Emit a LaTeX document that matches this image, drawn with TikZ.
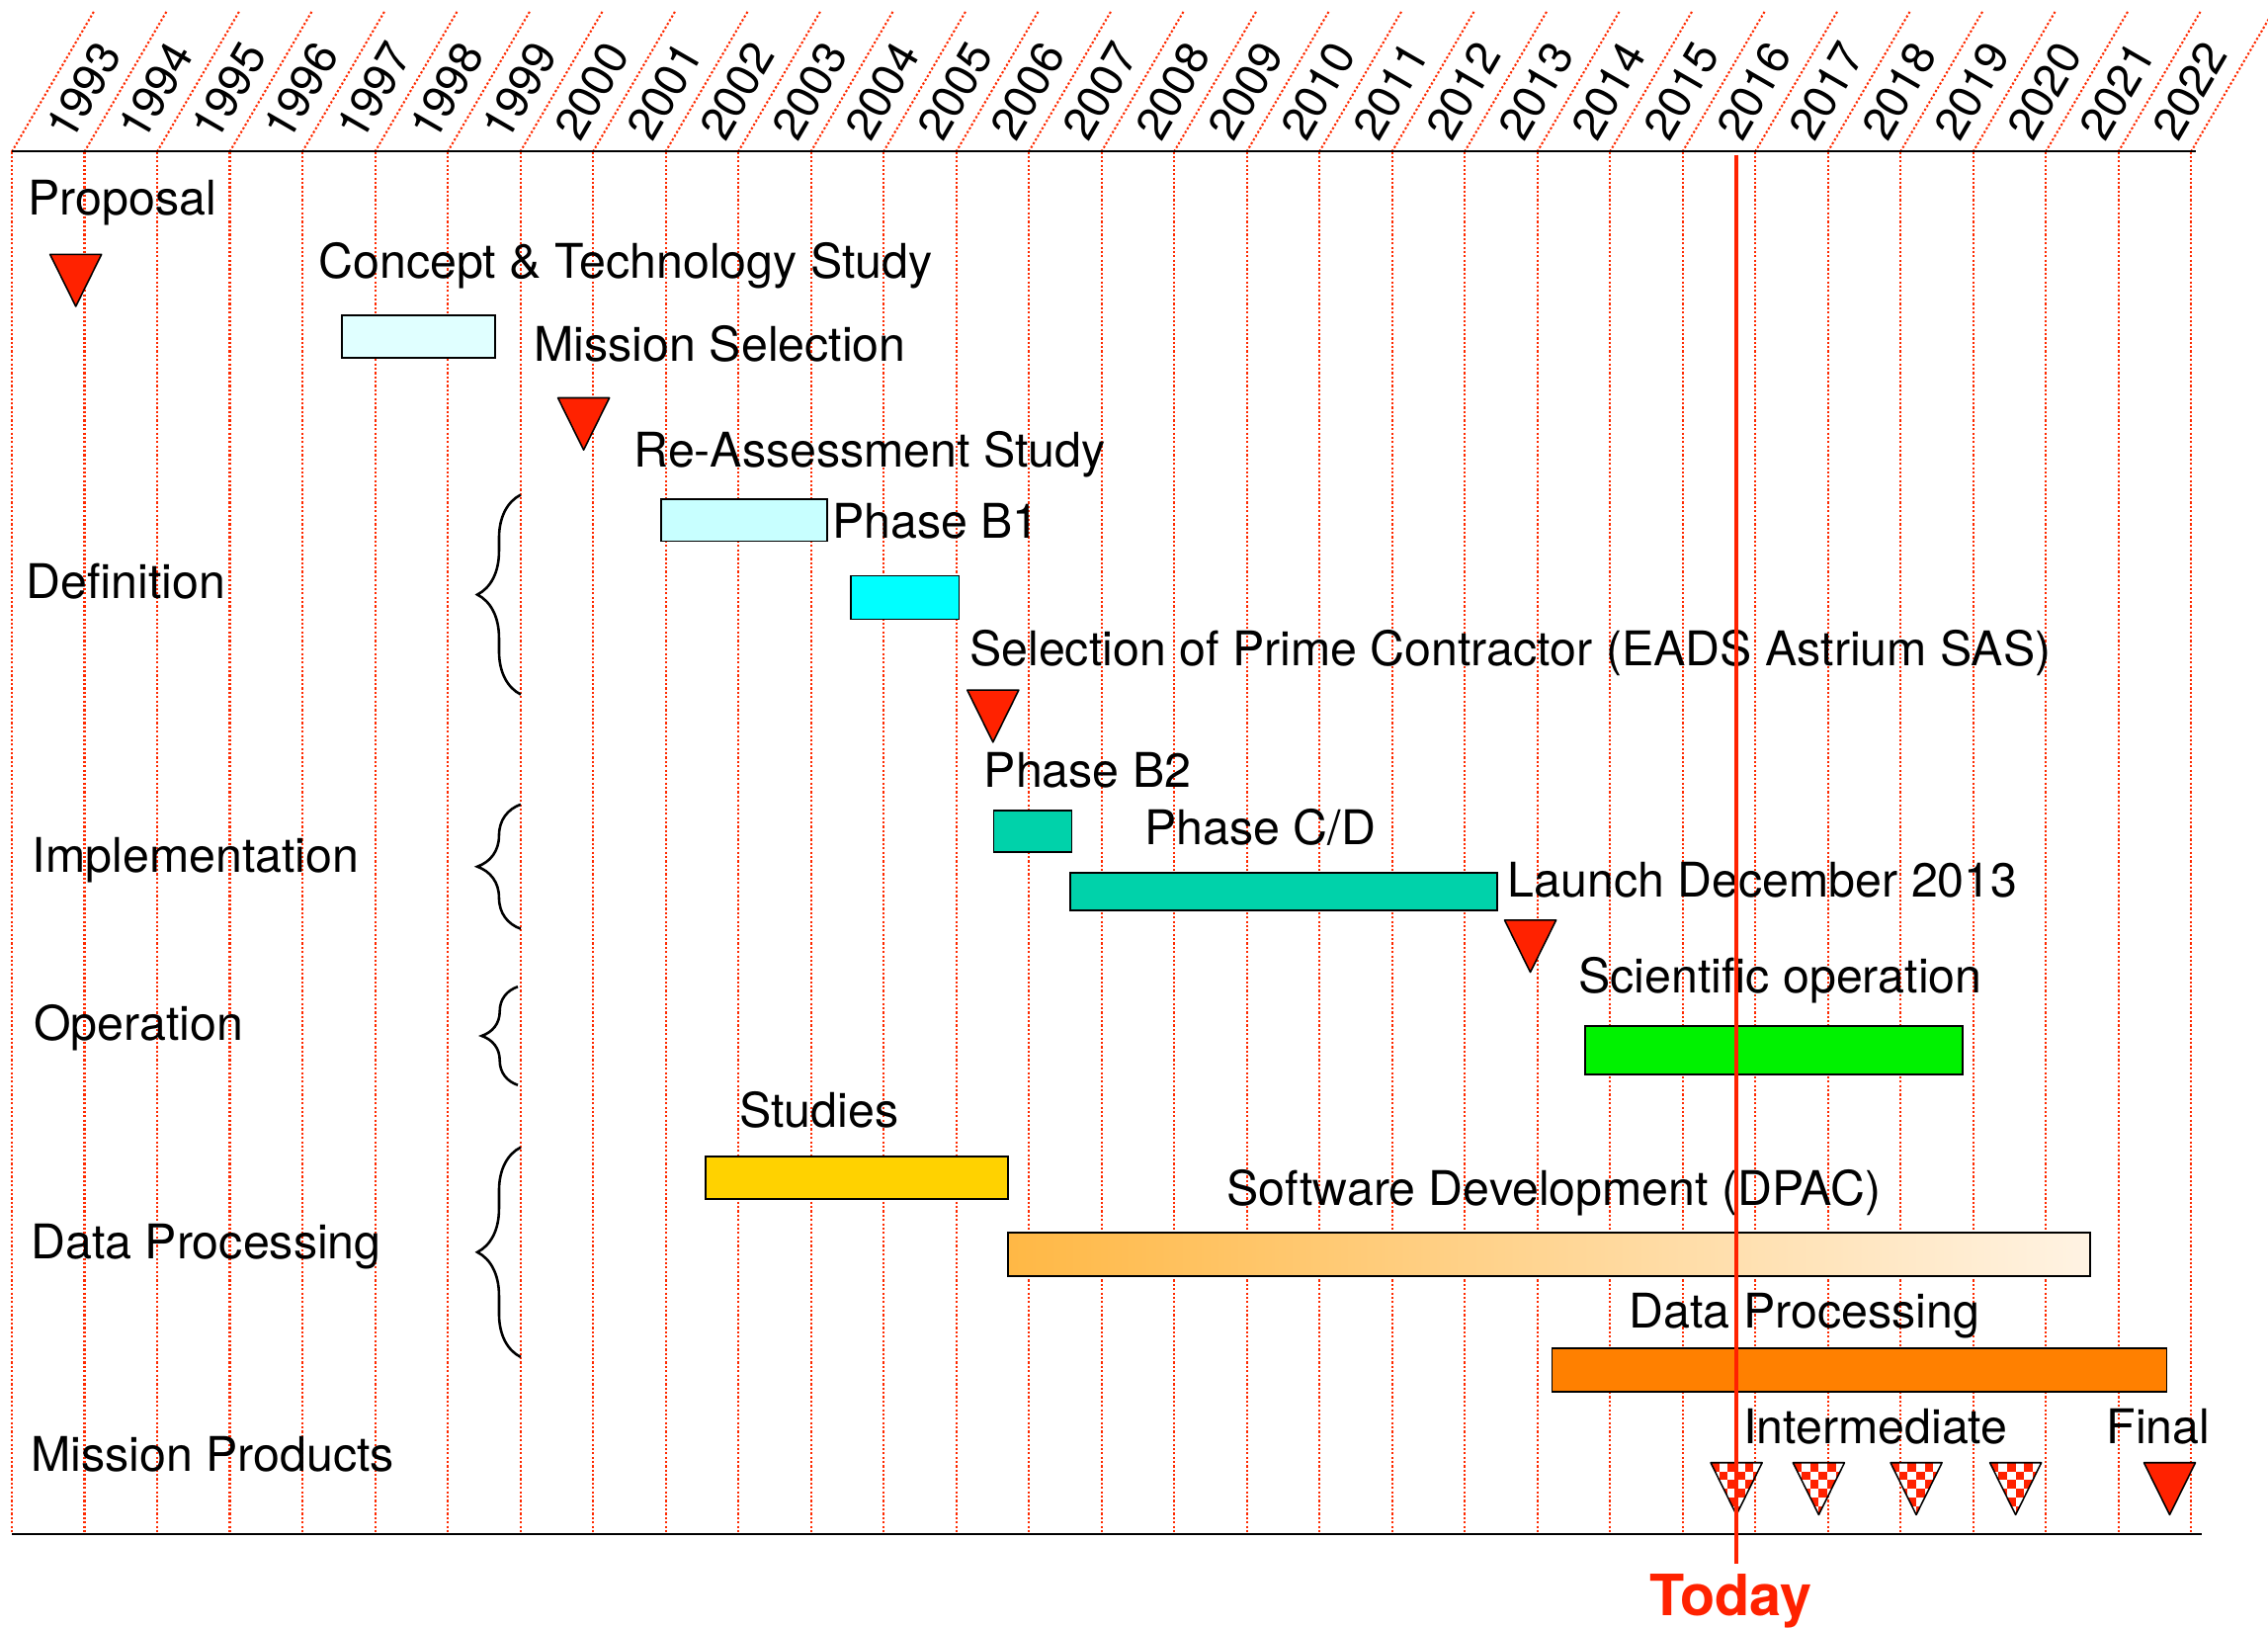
\documentclass[tikz,border=0pt]{standalone}
\usepackage{fontspec}
\setmainfont{TeX Gyre Heros}
\usetikzlibrary{decorations.pathreplacing}
\definecolor{gridred}{HTML}{FF2A00}
\definecolor{msred}{HTML}{FF2200}
\definecolor{palecyan}{HTML}{E0FFFF}
\definecolor{lightcyan}{HTML}{C8FFFF}
\definecolor{cyanbar}{HTML}{00FFFF}
\definecolor{tealbar}{HTML}{00D2AA}
\definecolor{greenbar}{HTML}{00F200}
\definecolor{yellowbar}{HTML}{FFD200}
\definecolor{orangebar}{HTML}{FF8000}
\definecolor{swleft}{HTML}{FFB845}
\definecolor{swright}{HTML}{FFF3E3}
\tikzset{yearline/.style = {gridred, line width=0.8pt, dash pattern=on 0.85pt off 0.85pt}}
\tikzset{yearlbl/.style = {rotate=60, inner sep=0pt, font=\fontsize{18}{21}\selectfont}}
\tikzset{lbl/.style = {anchor=base west, inner sep=0pt, font=\fontsize{18.8}{22}\selectfont}}
\tikzset{gbar/.style = {draw=black, line width=0.7pt}}
\tikzset{mstone/.style = {fill=msred, draw=black, line width=0.6pt, line join=round}}
\tikzset{phasebrace/.style = {decorate, decoration={brace, amplitude=0.6cm}, line width=1pt}}

\begin{document}
\begin{tikzpicture}[x=0.02cm, y=-0.02cm]
    \useasboundingbox (0,0) rectangle (1568,1125);
    \foreach \k in {0,...,30} {
        \draw[yearline] ({8.2+50.22*\k},104.8) -- ++(0,955.4);
        \draw[yearline] ({8.2+50.22*\k},104.8) -- ++(56.7,-96.8);
    }
    \foreach \k [evaluate=\k as \yy using int(1993+\k)] in {0,...,29}
        \node[yearlbl] (y\yy) at ({57.6+50.22*\k},63) {\yy};
    \draw[line width=0.8pt] (8.2,104.8) -- (1518,104.8);
    \draw[line width=0.8pt] (8.2,1060.2) -- (1522,1060.2);

    \node[lbl] (proposal) at (19,148.5) {Proposal};
    \node[lbl] (concept) at (220,192.5) {Concept \& Technology Study};
    \node[lbl] (missel) at (369,250) {Mission Selection};
    \node[lbl] (reass) at (438,323) {Re-Assessment Study};
    \node[lbl] (phb1) at (575,372) {Phase B1};
    \node[lbl] (definition) at (18,414) {Definition};
    \node[lbl] (prime) at (670,460) {Selection of Prime Contractor (EADS Astrium SAS)};
    \node[lbl] (phb2) at (680,544) {Phase B2};
    \node[lbl] (phcd) at (791,584) {Phase C/D};
    \node[lbl] (implementation) at (22,603) {Implementation};
    \node[lbl] (launch) at (1042,620) {Launch December 2013};
    \node[lbl] (sciop) at (1091,686) {Scientific operation};
    \node[lbl] (operation) at (23,719) {Operation};
    \node[lbl] (studies) at (511,779) {Studies};
    \node[lbl] (softdev) at (848,833) {Software Development (DPAC)};
    \node[lbl] (dataproc) at (21,870) {Data Processing};
    \node[lbl] (dpbar) at (1126,918) {Data Processing};
    \node[lbl] (products) at (21,1017) {Mission Products};
    \node[lbl] (intermediate) at (1205,998) {Intermediate};
    \node[lbl] (final) at (1456,998) {Final};

    \draw[gbar, fill=palecyan] (236.4,218) rectangle (342.1,247.1);
    \draw[gbar, fill=lightcyan] (457,345) rectangle (572,374);
    \draw[gbar, fill=cyanbar] (588,398) rectangle (663,428);
    \draw[gbar, fill=tealbar] (687,560) rectangle (741,589);
    \draw[gbar, fill=tealbar] (739.7,603.5) rectangle (1035,629.3);
    \draw[gbar, fill=greenbar] (1095.9,709.4) rectangle (1356.7,742.5);
    \draw[gbar, fill=yellowbar] (488,799.4) rectangle (697,828.6);
    \draw[gbar, left color=swleft, right color=swright] (697,852) rectangle (1445,882);
    \draw[gbar, fill=orangebar] (1073,932) rectangle (1498,962);

    \foreach \cx/\ty in {52.4/175.8, 403.5/275, 686.5/477, 1058/636, 1500/1011}
        \draw[mstone] (\cx-17.8,\ty) -- (\cx+17.8,\ty) -- (\cx,\ty+36) -- cycle;
    \foreach \cx in {1200.5, 1257.4, 1324.8, 1393.5} {
        \begin{scope}
            \clip (\cx-17.8,1011) -- (\cx+17.8,1011) -- (\cx,1047) -- cycle;
            \fill[white] (\cx-18,1011) rectangle (\cx+18,1047);
            \foreach \i in {0,...,5}
                \foreach \j in {0,2,4}
                    \fill[msred] ({\cx-17.8+5.93*\i},{1011+6*(\j+mod(\i,2))}) rectangle ++(5.93,6);
        \end{scope}
        \draw[mstone, fill=none] (\cx-17.8,1011) -- (\cx+17.8,1011) -- (\cx,1047) -- cycle;
    }

    \draw[phasebrace] (360,480) -- (360,342);
    \draw[phasebrace] (360,642) -- (360,556);
    \draw[phasebrace, decoration={amplitude=0.5cm}] (358,750) -- (358,682);
    \draw[phasebrace] (360,938) -- (360,793);

    \draw[msred, line width=1.55pt] (1200.7,107) -- (1200.7,1080.7);
    \node[anchor=base west, inner sep=0pt, text=msred, font=\fontsize{22.4}{26}\selectfont\bfseries] (today) at (1140,1117) {Today};
\end{tikzpicture}
\end{document}
